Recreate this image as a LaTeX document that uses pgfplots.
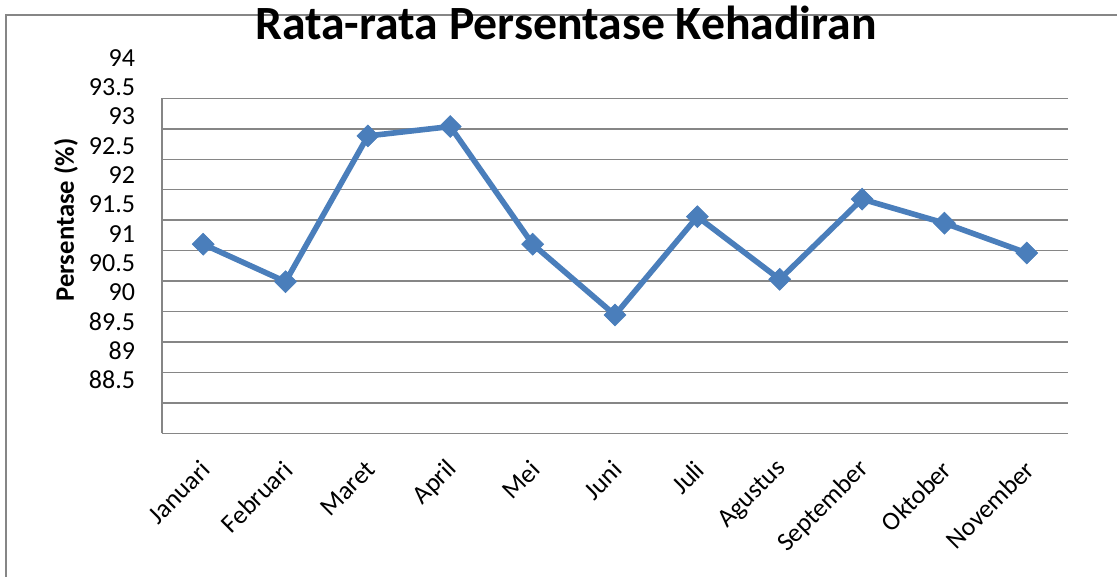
\documentclass[border=0pt]{standalone}
\usepackage{fontspec}
\setmainfont{Carlito}
\usepackage{pgfplots}
\pgfplotsset{compat=1.18}
\definecolor{excelblue}{RGB}{74,126,187}
\definecolor{gridgray}{RGB}{134,134,134}
\begin{document}
\begin{tikzpicture}
\useasboundingbox (0,0) rectangle (837.75pt,432.75pt);
\draw[gridgray, line width=1.3pt] (4.5pt,-20pt) -- (4.5pt,421.5pt) -- (860pt,421.5pt);
\begin{axis}[
  scale only axis,
  at={(121.5pt,107.78pt)}, anchor=south west,
  width=679.5pt, height=294.6pt,
  xmin=-0.5, xmax=10.5,
  ymin=87.59, ymax=94.3,
  axis line style={draw=none},
  major tick length=0pt,
  xtick={0,...,10},
  xticklabels={Januari,Februari,Maret,April,Mei,Juni,Juli,Agustus,September,Oktober,November},
  xticklabel style={font=\fontsize{19.5}{22}\selectfont, yshift=-24pt, xshift=2pt, rotate=45, anchor=east, inner sep=0pt},
  ytick={87.59,88.11,88.63,89.15,89.67,90.19,90.71,91.23,91.75,92.27,92.79,93.311},
  yticklabels={},
  ymajorgrids,
  grid style={gridgray, line width=1.1pt},
  extra y ticks={88.5,89,89.5,90,90.5,91,91.5,92,92.5,93,93.5,94},
  extra y tick labels={88.5,89,89.5,90,90.5,91,91.5,92,92.5,93,93.5,94},
  extra y tick style={grid=none, yticklabel style={font=\fontsize{19.5}{22}\selectfont, anchor=east, inner sep=0pt, xshift=-20pt}},
  clip=false,
]
\draw[gridgray, line width=1.1pt] (axis cs:-0.5,87.59) -- (axis cs:-0.5,93.311);
\addplot[excelblue, line width=4.2pt, mark=square*, mark size=5.8pt, mark options={rotate=45, solid, fill=excelblue, draw=excelblue, line width=0.5pt}]
coordinates {
(0,90.82) (1,90.18) (2,92.67) (3,92.83) (4,90.82) (5,89.61)
(6,91.29) (7,90.22) (8,91.59) (9,91.18) (10,90.67)
};
\end{axis}
\node[anchor=base, font=\fontsize{35.8}{40}\selectfont\bfseries] at (424.5pt,403.3pt) {Rata-rata Persentase Kehadiran};
\node[rotate=90, font=\fontsize{20}{24}\selectfont\bfseries] at (49.5pt,267.75pt) {Persentase (\%)};
\end{tikzpicture}
\end{document}
